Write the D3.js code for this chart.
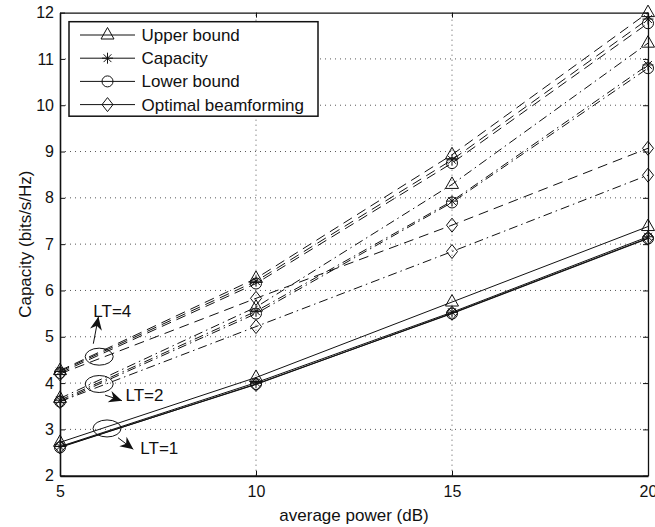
<!DOCTYPE html>
<html>
<head>
<meta charset="utf-8">
<script src="https://cdn.jsdelivr.net/npm/d3@7"></script>
<style>
  body { margin: 0; background: #fff; }
  svg { display: block; font-family: "Liberation Sans", Arial, Helvetica, sans-serif; }
</style>
</head>
<body>
<div class="chart-container"></div>
<script>
const SVG_WIDTH = 655;
const SVG_HEIGHT = 527;

// x values (average power, dB)
const powers = [5, 10, 15, 20];
const xTicks = [5, 10, 15, 20];
const yTicks = [2, 3, 4, 5, 6, 7, 8, 9, 10, 11, 12];

// LT = 1 (solid)
const upper1 = [2.72, 4.12, 5.75, 7.38];
const capacity1 = [2.63, 4.01, 5.53, 7.16];
const lower1 = [2.61, 3.98, 5.50, 7.12];
const beam1 = [2.62, 3.97, 5.51, 7.13];

// LT = 2 (dash-dot)
const upper2 = [3.67, 5.64, 8.29, 11.34];
const capacity2 = [3.63, 5.55, 7.93, 10.87];
const lower2 = [3.60, 5.50, 7.90, 10.80];
const beam2 = [3.60, 5.22, 6.84, 8.49];

// LT = 4 (dashed)
const upper4 = [4.27, 6.26, 8.93, 12.00];
const capacity4 = [4.25, 6.20, 8.82, 11.86];
const lower4 = [4.22, 6.15, 8.75, 11.77];
const beam4 = [4.20, 5.83, 7.41, 9.07];

const legendLabels = ["Upper bound", "Capacity", "Lower bound", "Optimal beamforming"];
const markerTypes = ["triangle", "star", "circle", "diamond"];

const groups = [
    {dash: null, series: [upper1, capacity1, lower1, beam1]},
    {dash: "9,4,1.5,4", series: [upper2, capacity2, lower2, beam2]},
    {dash: "10,6", series: [upper4, capacity4, lower4, beam4]}
];

// annotations: label, ellipse centre (in data units), arrow tail/tip (data units)
const annotations = [
    {label: "LT=4", cx: 6.0, cy: 4.57, tail: [5.85, 4.85], tip: [5.98, 5.43], tx: 5.85, ty: 5.43},
    {label: "LT=2", cx: 6.0, cy: 3.98, tail: [6.15, 3.74], tip: [6.58, 3.62], tx: 6.67, ty: 3.62},
    {label: "LT=1", cx: 6.2, cy: 3.02, tail: [6.48, 2.82], tip: [6.87, 2.57], tx: 7.05, ty: 2.47}
];

const margin = {left: 60, right: 7, top: 12.6, bottom: 51.3};

const svg = d3.select(".chart-container")
    .append("svg")
    .attr("width", SVG_WIDTH)
    .attr("height", SVG_HEIGHT);

const x = d3.scaleLinear().domain([5, 20]).range([margin.left, SVG_WIDTH - margin.right]);
const y = d3.scaleLinear().domain([2, 12]).range([SVG_HEIGHT - margin.bottom, margin.top]);

const x0 = x.range()[0], x1 = x.range()[1];
const y0 = y.range()[0], y1 = y.range()[1];

// grid
const grid = svg.append("g")
    .attr("stroke", "#444")
    .attr("stroke-width", 0.9)
    .attr("stroke-dasharray", "1,4");

grid.selectAll(".gx")
    .data(xTicks.slice(1, -1))
    .join("line")
    .attr("x1", d => x(d)).attr("x2", d => x(d))
    .attr("y1", y0).attr("y2", y1);

grid.selectAll(".gy")
    .data(yTicks.slice(1, -1))
    .join("line")
    .attr("x1", x0).attr("x2", x1)
    .attr("y1", d => y(d)).attr("y2", d => y(d));

// axes
const tickFont = "16px";

const xAxis = svg.append("g")
    .attr("transform", `translate(0,${y0})`)
    .call(d3.axisBottom(x).tickValues(xTicks).tickSizeInner(-5).tickSizeOuter(0).tickPadding(10));

const yAxis = svg.append("g")
    .attr("transform", `translate(${x0},0)`)
    .call(d3.axisLeft(y).tickValues(yTicks).tickSizeInner(-5).tickSizeOuter(0).tickPadding(6));

const xTop = svg.append("g")
    .attr("transform", `translate(0,${y1})`)
    .call(d3.axisTop(x).tickValues(xTicks).tickSizeInner(-5).tickSizeOuter(0).tickFormat(""));

const yRight = svg.append("g")
    .attr("transform", `translate(${x1},0)`)
    .call(d3.axisRight(y).tickValues(yTicks).tickSizeInner(-5).tickSizeOuter(0).tickFormat(""));

[xAxis, yAxis, xTop, yRight].forEach(a => {
    a.selectAll("text")
        .style("font-size", tickFont)
        .attr("fill", "#111");
    a.selectAll("line").attr("stroke", "#111");
    a.select(".domain").attr("stroke", "#111").attr("stroke-width", 1.3);
});
xAxis.select(".domain").attr("stroke-width", 2);
yAxis.select(".domain").attr("stroke-width", 1.6);

// axis labels
svg.append("text")
    .attr("x", (x0 + x1) / 2)
    .attr("y", 521)
    .attr("text-anchor", "middle")
    .style("font-size", "17px")
    .attr("fill", "#111")
    .text("average power (dB)");

svg.append("text")
    .attr("transform", `translate(31,${(y0 + y1) / 2}) rotate(-90)`)
    .attr("text-anchor", "middle")
    .style("font-size", "17px")
    .attr("fill", "#111")
    .text("Capacity (bits/s/Hz)");

// markers
function drawMarker(target, type, cx, cy) {
    const g = target.append("g")
        .attr("transform", `translate(${cx},${cy})`)
        .attr("fill", "none")
        .attr("stroke", "#111")
        .attr("stroke-width", 1);
    if (type === "triangle") {
        g.append("path").attr("d", "M0,-7.5L6.5,4L-6.5,4Z");
    } else if (type === "circle") {
        g.append("circle").attr("r", 5.5);
    } else if (type === "diamond") {
        g.append("path").attr("d", "M0,-7L5.5,0L0,7L-5.5,0Z");
    } else if (type === "star") {
        g.append("path").attr("d", "M0,-5.5V5.5M-5.5,0H5.5M-3.9,-3.9L3.9,3.9M-3.9,3.9L3.9,-3.9");
    }
}

const line = d3.line()
    .x((d, i) => x(powers[i]))
    .y(d => y(d));

const plot = svg.append("g");

groups.forEach(group => {
    group.series.forEach((values, s) => {
        plot.append("path")
            .attr("d", line(values))
            .attr("fill", "none")
            .attr("stroke", "#111")
            .attr("stroke-width", 1)
            .attr("stroke-dasharray", group.dash);
    });
});

groups.forEach(group => {
    group.series.forEach((values, s) => {
        values.forEach((v, i) => drawMarker(plot, markerTypes[s], x(powers[i]), y(v)));
    });
});

// annotations
const ann = svg.append("g");
annotations.forEach(a => {
    ann.append("ellipse")
        .attr("cx", x(a.cx)).attr("cy", y(a.cy))
        .attr("rx", 14).attr("ry", 8.5)
        .attr("fill", "none")
        .attr("stroke", "#111")
        .attr("stroke-width", 1);

    const tx0 = x(a.tail[0]), ty0 = y(a.tail[1]);
    const tx1 = x(a.tip[0]), ty1 = y(a.tip[1]);
    const ang = Math.atan2(ty1 - ty0, tx1 - tx0) * 180 / Math.PI;
    ann.append("line")
        .attr("x1", tx0).attr("y1", ty0)
        .attr("x2", tx1).attr("y2", ty1)
        .attr("stroke", "#111")
        .attr("stroke-width", 1);
    ann.append("path")
        .attr("transform", `translate(${tx1},${ty1}) rotate(${ang})`)
        .attr("d", "M0,0L-13,-6L-9,0L-13,6Z")
        .attr("fill", "#111");

    ann.append("text")
        .attr("x", x(a.tx))
        .attr("y", y(a.ty))
        .style("font-size", "17px")
        .attr("fill", "#111")
        .text(a.label);
});

// legend
const legend = svg.append("g");
legend.append("rect")
    .attr("x", 69).attr("y", 21.7)
    .attr("width", 249).attr("height", 94.5)
    .attr("fill", "#fff")
    .attr("stroke", "#111")
    .attr("stroke-width", 1.5);

legendLabels.forEach((label, i) => {
    const ly = 35 + i * 23.2;
    legend.append("line")
        .attr("x1", 80).attr("x2", 135)
        .attr("y1", ly).attr("y2", ly)
        .attr("stroke", "#111")
        .attr("stroke-width", 1);
    drawMarker(legend, markerTypes[i], 107.5, ly);
    legend.append("text")
        .attr("x", 141.5)
        .attr("y", ly + 6)
        .style("font-size", "17px")
        .attr("fill", "#111")
        .text(label);
});
</script>
</body>
</html>
